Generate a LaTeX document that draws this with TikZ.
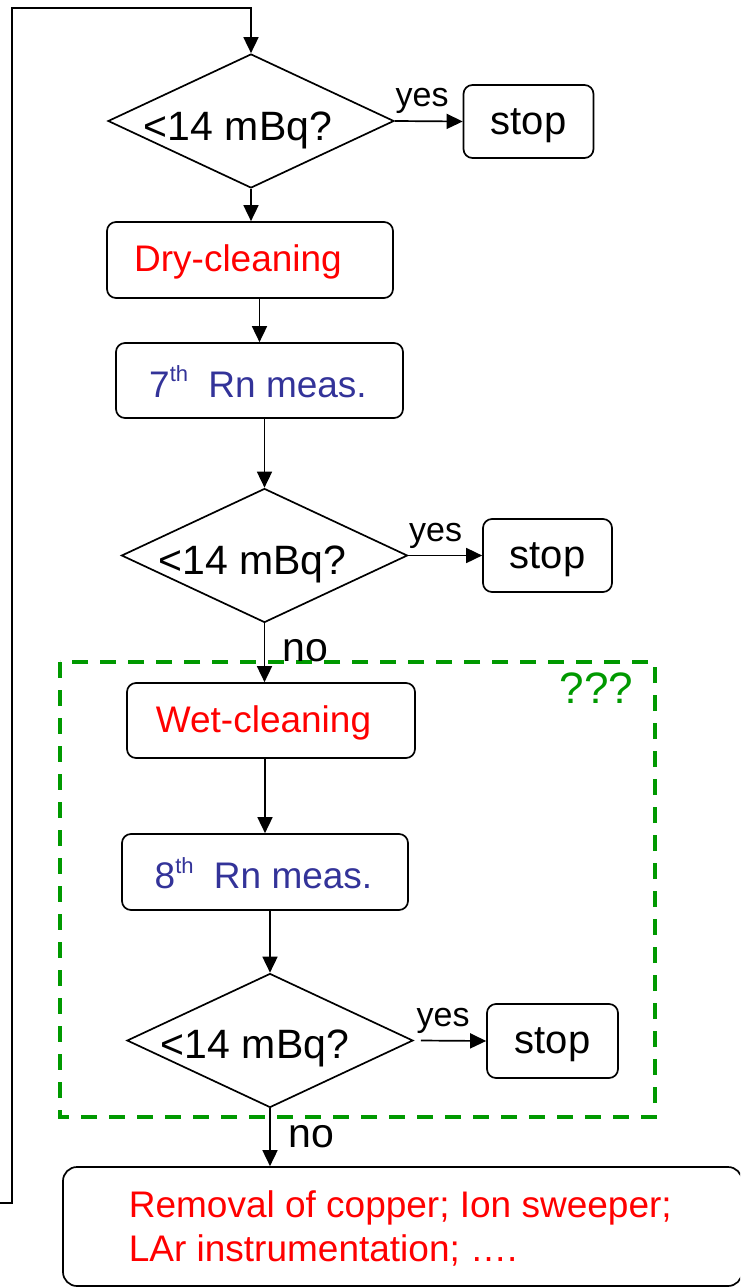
\documentclass[tikz,border=0pt]{standalone}
\usepackage{fontspec}
\setmainfont{Liberation Sans}
\usetikzlibrary{shapes.geometric,arrows.meta}
\definecolor{dgreen}{RGB}{0,153,0}
\definecolor{mblue}{RGB}{51,51,153}
\definecolor{mred}{RGB}{255,0,0}
\newcommand{\sth}[1]{#1\raisebox{0.42em}{\fontsize{22}{22}\selectfont th}\hspace{0.55em}}
\begin{document}
\begin{tikzpicture}[x=1pt,y=-1pt,
  line width=1.7pt,
  arr/.style={-{Triangle[length=16pt,width=15pt]}},
  box/.style={draw, rounded corners=9pt, inner sep=0pt},
  stopbox/.style={box, font=\fontsize{40}{48}\selectfont, text depth=0pt},
  dia/.style={draw, diamond, inner sep=0pt, minimum width=286pt, minimum height=134pt},
  qtext/.style={font=\fontsize{41}{48}\selectfont, inner sep=0pt},
  btext/.style={font=\fontsize{37}{44}\selectfont, inner sep=0pt},
  ltext/.style={font=\fontsize{34}{40}\selectfont, inner sep=0pt},
  fintext/.style={font=\fontsize{37}{44}\selectfont, inner sep=0pt, text=mred, anchor=base west},
]
\useasboundingbox (0,0) rectangle (740,1287);
\clip (0,0) rectangle (740,1287);

% dashed group
\draw[dgreen, line width=4pt, dash pattern=on 16pt off 12pt] (60,662) rectangle (655,1117);
\node[anchor=base west, text=dgreen, font=\fontsize{44}{50}\selectfont, inner sep=0pt] (qqq) at (559,703) {???};

% decisions
\node[dia, label={[qtext, xshift=-13pt, yshift=-9pt]center:{<14 mBq?}}] (d1) at (251,121) {};
\node[dia, label={[qtext, xshift=-12pt, yshift=-9pt]center:{<14 mBq?}}] (d2) at (264.5,555.5) {};
\node[dia, label={[qtext, xshift=-15pt, yshift=-8pt]center:{<14 mBq?}}] (d3) at (270,1040.5) {};

% stop boxes
\node[stopbox, minimum width=130pt, minimum height=73pt] (s1) at (528.5,121.5) {stop};
\node[stopbox, minimum width=129pt, minimum height=73pt] (s2) at (547.5,555.5) {stop};
\node[stopbox, minimum width=131pt, minimum height=74pt] (s3) at (552.5,1041) {stop};

% process boxes
\node[box, minimum width=286pt, minimum height=76pt,
  label={[btext, text=mred, xshift=-12pt, yshift=-2pt]center:Dry-cleaning}] (dry) at (250,260) {};
\node[box, minimum width=287pt, minimum height=75pt,
  label={[btext, text=mblue, xshift=-1.5pt, yshift=-1pt]center:{\sth{7}Rn meas.}}] (m7) at (259.5,380.5) {};
\node[box, minimum width=288pt, minimum height=75pt,
  label={[btext, text=mred, xshift=-7.5pt, yshift=-2pt]center:Wet-cleaning}] (wet) at (271,720.5) {};
\node[box, minimum width=286pt, minimum height=76pt,
  label={[btext, text=mblue, xshift=-1.5pt, yshift=-1pt]center:{\sth{8}Rn meas.}}] (m8) at (265,872) {};

% final box
\node[draw, rounded corners=14pt, minimum width=679pt, minimum height=119pt, inner sep=0pt] (fin) at (402.5,1226.5) {};
\node[fintext] (fin1) at (128,1217) {Removal of copper; Ion sweeper;};
\node[fintext] (fin2) at (128,1261) {LAr instrumentation; \textellipsis.};

% loop back
\coordinate (loopin) at (-5,1203);
\draw[arr] (loopin) -| (12,8) -| (d1.north);

% main flow
\draw[arr] (d1.south) -- (d1.south |- dry.north);
\draw[arr] (m7.north |- dry.south) -- (m7.north);
\draw[arr] (d2.north |- m7.south) -- (d2.north);
\draw[arr] (d2.south) -- (d2.south |- wet.north)
  node[font=\fontsize{41}{48}\selectfont, inner sep=0pt, pos=0, anchor=base west, xshift=17pt, yshift=-38pt] (no1) {no};
\draw[arr] (m8.north |- wet.south) -- (m8.north);
\draw[arr] (d3.north |- m8.south) -- (d3.north);
\draw[arr] (d3.south) -- (d3.south |- fin.north)
  node[font=\fontsize{41}{48}\selectfont, inner sep=0pt, pos=0, anchor=base west, xshift=18pt, yshift=-39pt] (no2) {no};

% yes branches
\draw[arr] (d1.east) -- (s1.west)
  node[ltext, pos=0, anchor=base west, yshift=14pt] (y1) {yes};
\draw[arr] (d2.east) -- (s2.west)
  node[ltext, pos=0, anchor=base west, yshift=14pt] (y2) {yes};
\draw[arr] ([xshift=7pt]d3.east) -- (s3.west)
  node[ltext, pos=0, anchor=base west, xshift=-5pt, yshift=14pt] (y3) {yes};
\end{tikzpicture}
\end{document}
